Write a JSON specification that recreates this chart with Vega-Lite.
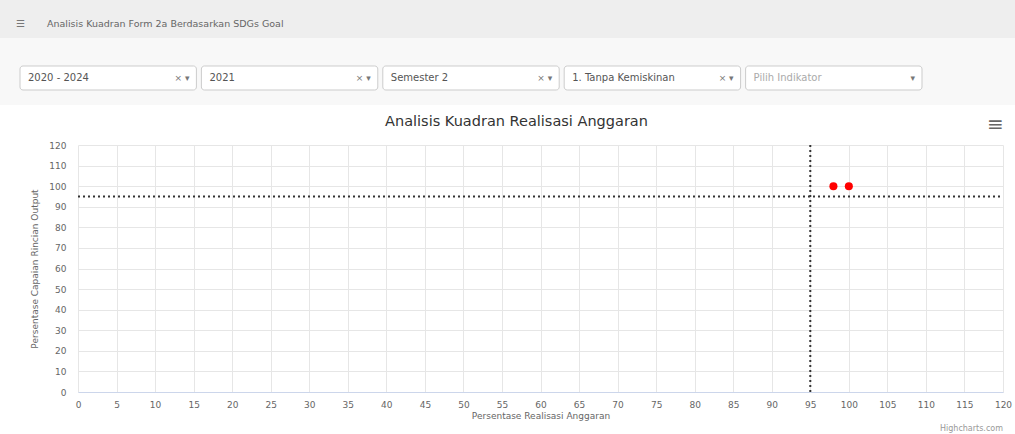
{
  "$schema": "https://vega.github.io/schema/vega-lite/v6.json",
  "background": "#ffffff",
  "padding": 0,
  "columns": 1,
  "spacing": 8,
  "config": {
    "font": "DejaVu Sans",
    "view": {"stroke": null}
  },
  "concat": [
    {
      "columns": 1,
      "spacing": 0,
      "concat": [
        {
          "width": 1015,
          "height": 38,
          "view": {"fill": "#eeeeee", "stroke": null},
          "data": {"values": [
            {"icon": "☰", "heading": "Analisis Kuadran Form 2a Berdasarkan SDGs Goal"}
          ]},
          "layer": [
            {
              "mark": {"type": "text", "align": "left", "baseline": "middle", "fontSize": 10, "color": "#777777", "dy": 5},
              "encoding": {
                "x": {"field": "icon", "type": "nominal", "scale": {"type": "point", "padding": 0, "align": 0.0158}, "axis": null},
                "text": {"field": "icon"}
              }
            },
            {
              "mark": {"type": "text", "align": "left", "baseline": "middle", "fontSize": 9.5, "color": "#666666", "dy": 5},
              "encoding": {
                "x": {"field": "heading", "type": "nominal", "scale": {"type": "point", "padding": 0, "align": 0.0463}, "axis": null},
                "text": {"field": "heading"}
              }
            }
          ],
          "resolve": {"scale": {"x": "independent"}}
        },
        {
          "width": 1015,
          "height": 67,
          "view": {"fill": "#f8f8f8", "stroke": null},
          "data": {"values": [
            {"order": 1, "filter": "2020 - 2024", "state": "selected", "controls": "×  ▾"},
            {"order": 2, "filter": "2021", "state": "selected", "controls": "×  ▾"},
            {"order": 3, "filter": "Semester 2", "state": "selected", "controls": "×  ▾"},
            {"order": 4, "filter": "1. Tanpa Kemiskinan", "state": "selected", "controls": "×  ▾"},
            {"order": 5, "filter": "Pilih Indikator", "state": "placeholder", "controls": "▾"}
          ]},
          "layer": [
            {
              "mark": {"type": "bar", "fill": "#ffffff", "stroke": "#cccccc", "strokeWidth": 1, "cornerRadius": 3},
              "encoding": {
                "x": {"field": "filter", "type": "nominal", "sort": {"field": "order"}, "scale": {"paddingInner": 0.0276, "paddingOuter": 0.3115, "align": 0.177}, "axis": null},
                "y": {"datum": "filters", "type": "nominal", "scale": {"paddingInner": 0, "paddingOuter": 0.8958, "align": 0.651}, "axis": null}
              }
            },
            {
              "mark": {"type": "text", "align": "left", "baseline": "middle", "dx": 8, "fontSize": 10},
              "encoding": {
                "x": {"field": "filter", "type": "nominal", "sort": {"field": "order"}, "bandPosition": 0},
                "y": {"datum": "filters", "type": "nominal"},
                "text": {"field": "filter"},
                "color": {"field": "state", "type": "nominal", "scale": {"domain": ["selected", "placeholder"], "range": ["#555555", "#aaaaaa"]}, "legend": null}
              }
            },
            {
              "mark": {"type": "text", "align": "right", "baseline": "middle", "dx": -7, "fontSize": 9, "color": "#777777"},
              "encoding": {
                "x": {"field": "filter", "type": "nominal", "sort": {"field": "order"}, "bandPosition": 1},
                "y": {"datum": "filters", "type": "nominal"},
                "text": {"field": "controls"}
              }
            }
          ]
        }
      ]
    },
    {
      "width": 1003,
      "height": 247,
      "title": {"text": "Analisis Kuadran Realisasi Anggaran", "fontSize": 14.5, "fontWeight": "normal", "color": "#333333", "font": "DejaVu Sans", "offset": -14, "dx": 15},
      "view": {"stroke": null},
      "layer": [
        {
          "data": {"values": [{"realisasi": 95}]},
          "mark": {"type": "rule", "color": "#333333", "strokeWidth": 2, "strokeDash": [2, 3]},
          "encoding": {
            "x": {
              "field": "realisasi", "type": "quantitative",
              "scale": {"domain": [0, 120], "range": [78, 1003], "nice": false, "zero": false},
              "axis": {
                "title": "Persentase Realisasi Anggaran",
                "values": [0, 5, 10, 15, 20, 25, 30, 35, 40, 45, 50, 55, 60, 65, 70, 75, 80, 85, 90, 95, 100, 105, 110, 115, 120],
                "tickCount": 25,
                "grid": true, "gridColor": "#e6e6e6", "gridWidth": 1,
                "ticks": false, "domain": true, "domainColor": "#ccd6eb",
                "labelFontSize": 9, "labelColor": "#666666", "labelPadding": 8, "labelFlush": false, "labelOverlap": false,
                "titleFontSize": 9, "titleFontWeight": "normal", "titleColor": "#666666", "titlePadding": 2
              }
            }
          }
        },
        {
          "data": {"values": [{"capaian": 95}]},
          "mark": {"type": "rule", "color": "#333333", "strokeWidth": 2, "strokeDash": [2, 3]},
          "encoding": {
            "y": {
              "field": "capaian", "type": "quantitative",
              "scale": {"domain": [0, 120], "nice": false, "zero": false},
              "axis": {
                "title": "Persentase Capaian Rincian Output",
                "offset": -78,
                "values": [0, 10, 20, 30, 40, 50, 60, 70, 80, 90, 100, 110, 120],
                "tickCount": 13,
                "grid": true, "gridColor": "#e6e6e6", "gridWidth": 1,
                "ticks": false, "domain": false,
                "labelFontSize": 9, "labelColor": "#666666", "labelPadding": 12, "labelOverlap": false,
                "titleFontSize": 9, "titleFontWeight": "normal", "titleColor": "#666666", "titlePadding": 9
              }
            },
            "x": {"datum": 0, "type": "quantitative"},
            "x2": {"datum": 120}
          }
        },
        {
          "data": {"values": [
            {"realisasi": 98, "capaian": 100},
            {"realisasi": 100, "capaian": 100}
          ]},
          "mark": {"type": "circle", "size": 65, "color": "#ff0000", "opacity": 1},
          "encoding": {
            "x": {"field": "realisasi", "type": "quantitative"},
            "y": {"field": "capaian", "type": "quantitative"}
          }
        },
        {
          "data": {"values": [{"icon": "≡"}]},
          "mark": {"type": "text", "fontSize": 20, "color": "#666666", "align": "center", "baseline": "middle"},
          "encoding": {
            "x": {"datum": 119, "type": "quantitative"},
            "y": {"datum": 129.5, "type": "quantitative"},
            "text": {"field": "icon"}
          }
        },
        {
          "data": {"values": [{"credit": "Highcharts.com"}]},
          "mark": {"type": "text", "fontSize": 8, "color": "#999999", "align": "right", "baseline": "middle"},
          "encoding": {
            "x": {"datum": 120, "type": "quantitative"},
            "y": {"datum": -18, "type": "quantitative"},
            "text": {"field": "credit"}
          }
        }
      ]
    }
  ]
}
